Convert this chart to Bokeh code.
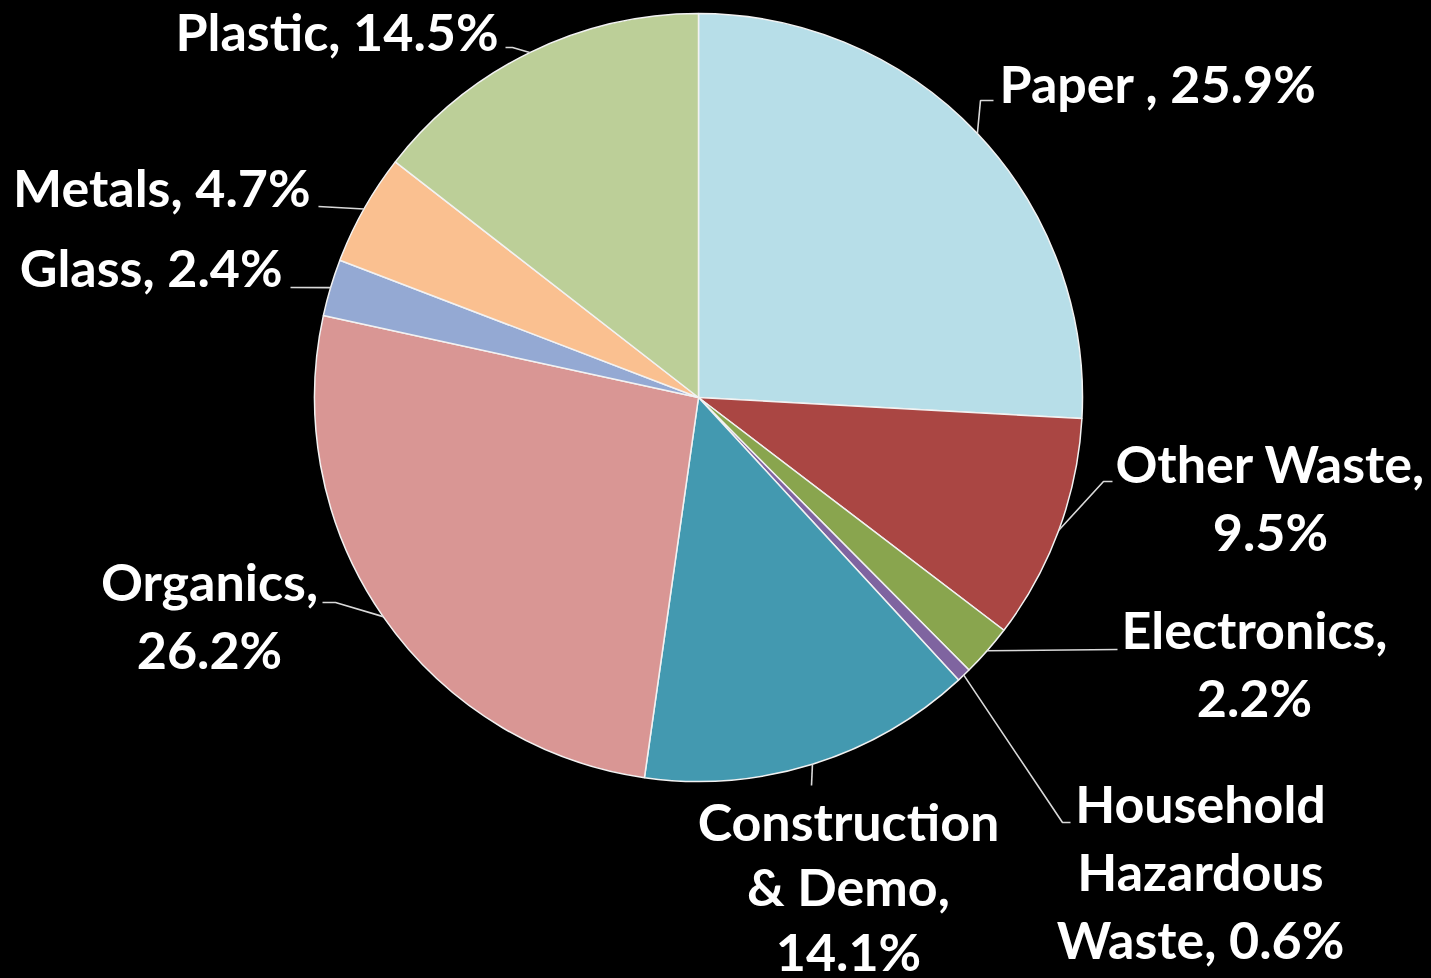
import math
from bokeh.plotting import figure
from bokeh.models import Range1d, ColumnDataSource, GlobalInlineStyleSheet
from bokeh.core.properties import value
from bokeh.embed import file_html
from bokeh.resources import INLINE

# ---------------- data ----------------
categories = ["Paper ", "Other Waste", "Electronics", "Household Hazardous Waste",
              "Construction & Demo", "Organics", "Glass", "Metals", "Plastic"]
shares = [25.9, 9.5, 2.2, 0.6, 14.1, 26.2, 2.4, 4.7, 14.5]
colors = ["#B7DEE8", "#AA4643", "#89A54E", "#7F64A0", "#4399B0",
          "#D99694", "#94A9D3", "#FAC090", "#BCCF98"]

# ---------------- layout (page pixel coords) ----------------
W, H = 1431, 978
CX, CY, R = 698, 397, 384
FONT = "Lato"
FS = 52

# words per line for each label
wrap = [[3], [2, 1], [1, 1], [1, 1, 2], [1, 2, 1], [1, 1], [2], [2], [2]]
# label anchor x, align, first baseline y, line spacing
lab_x = [999, 1270, 1254, 1200, 848, 209, 282, 310, 498]
lab_align = ["left", "center", "center", "center", "center", "center", "right", "right", "right"]
lab_y = [82, 462, 628, 802, 820, 580, 266, 186, 30]
lab_lh = [68, 68, 68, 68, 65, 68, 68, 68, 68]
# leader start (near text) and optional elbow
lead_start = [(993, 100), (1112, 481), (1117, 649), (1070, 822), (811, 785),
              (322, 602), (290, 287), (318, 206), (505, 47)]
lead_elbow = [(980, 100), (1103, 481), None, (1062, 822), None,
              (335, 602), None, None, (512, 47)]


def fy(y):
    return H - y


total = sum(shares)
starts, ends, mids = [], [], []
cum = 0.0
for s in shares:
    a0 = cum / total * 2 * math.pi
    cum += s
    a1 = cum / total * 2 * math.pi
    starts.append(math.pi / 2 - a1)
    ends.append(math.pi / 2 - a0)
    mids.append((a0 + a1) / 2)

p = figure(width=W, height=H, output_backend="svg", toolbar_location=None,
           x_range=Range1d(0, W), y_range=Range1d(0, H),
           min_border=0, background_fill_color="black", border_fill_color="black",
           outline_line_color=None)
p.xaxis.visible = False
p.yaxis.visible = False
p.grid.visible = False
p.stylesheets = [GlobalInlineStyleSheet(css="html, body { background: #000 !important; }")]

src = ColumnDataSource(dict(cat=categories, share=shares, start=starts, end=ends, color=colors))
p.wedge(x=CX, y=fy(CY), radius=R, start_angle="start", end_angle="end",
        fill_color="color", line_color="#F2F2F2", line_width=1.5, source=src)

# leader lines
for i, m in enumerate(mids):
    ax = CX + R * math.sin(m)
    ay = CY - R * math.cos(m)
    pts = [lead_start[i]]
    if lead_elbow[i] is not None:
        pts.append(lead_elbow[i])
    pts.append((ax, ay))
    p.line([q[0] for q in pts], [fy(q[1]) for q in pts], line_color="#D9D9D9", line_width=1.6)

# labels
tx, ty, tt, ta = [], [], [], []
for i, (cat, s) in enumerate(zip(categories, shares)):
    words = f"{cat}, {s}%".split()
    k = 0
    for j, n in enumerate(wrap[i]):
        line = " ".join(words[k:k + n])
        k += n
        tx.append(lab_x[i])
        ty.append(fy(lab_y[i] + j * lab_lh[i]))
        tt.append(line)
        ta.append(lab_align[i])

p.text(x=tx, y=ty, text=tt, text_align=ta, text_baseline="alphabetic",
       text_color="white", text_font=value(FONT), text_font_style="bold",
       text_font_size=f"{FS}px")

open("out.html", "w").write(file_html(p, INLINE))
